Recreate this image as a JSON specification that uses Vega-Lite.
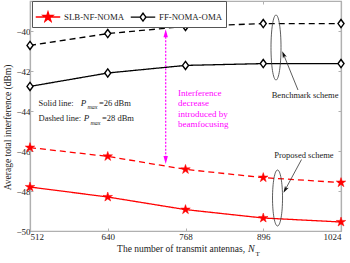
{
  "$schema": "https://vega.github.io/schema/vega-lite/v6.json",
  "autosize": {"type": "none"},
  "padding": {"left": 30, "top": 1, "right": 9, "bottom": 32},
  "width": 311,
  "height": 230,
  "background": "white",
  "config": {
    "font": "Liberation Serif",
    "view": {"stroke": "#b0b0b0", "strokeWidth": 1.2},
    "axis": {
      "domainColor": "#b0b0b0", "domainWidth": 1.2, "tickColor": "#b0b0b0", "tickSize": -3, "tickWidth": 1,
      "labelFont": "Liberation Serif", "labelFontSize": 9, "labelColor": "#222", "grid": false,
      "titleFont": "Liberation Serif", "titleFontSize": 9.5, "titleFontWeight": "normal", "titleColor": "#222"
    }
  },
  "datasets": {
    "lines": [
      {"N": 512, "scheme": "SLB-NF-NOMA", "power": "26 dBm", "value": -47.8},
      {"N": 640, "scheme": "SLB-NF-NOMA", "power": "26 dBm", "value": -48.3},
      {"N": 768, "scheme": "SLB-NF-NOMA", "power": "26 dBm", "value": -48.93},
      {"N": 896, "scheme": "SLB-NF-NOMA", "power": "26 dBm", "value": -49.35},
      {"N": 1024, "scheme": "SLB-NF-NOMA", "power": "26 dBm", "value": -49.55},
      {"N": 512, "scheme": "SLB-NF-NOMA", "power": "28 dBm", "value": -45.83},
      {"N": 640, "scheme": "SLB-NF-NOMA", "power": "28 dBm", "value": -46.27},
      {"N": 768, "scheme": "SLB-NF-NOMA", "power": "28 dBm", "value": -46.92},
      {"N": 896, "scheme": "SLB-NF-NOMA", "power": "28 dBm", "value": -47.33},
      {"N": 1024, "scheme": "SLB-NF-NOMA", "power": "28 dBm", "value": -47.58},
      {"N": 512, "scheme": "FF-NOMA-OMA", "power": "26 dBm", "value": -42.77},
      {"N": 640, "scheme": "FF-NOMA-OMA", "power": "26 dBm", "value": -42.1},
      {"N": 768, "scheme": "FF-NOMA-OMA", "power": "26 dBm", "value": -41.72},
      {"N": 896, "scheme": "FF-NOMA-OMA", "power": "26 dBm", "value": -41.63},
      {"N": 1024, "scheme": "FF-NOMA-OMA", "power": "26 dBm", "value": -41.63},
      {"N": 512, "scheme": "FF-NOMA-OMA", "power": "28 dBm", "value": -40.72},
      {"N": 640, "scheme": "FF-NOMA-OMA", "power": "28 dBm", "value": -40.13},
      {"N": 768, "scheme": "FF-NOMA-OMA", "power": "28 dBm", "value": -39.77},
      {"N": 896, "scheme": "FF-NOMA-OMA", "power": "28 dBm", "value": -39.63},
      {"N": 1024, "scheme": "FF-NOMA-OMA", "power": "28 dBm", "value": -39.63}
    ],
    "notes": [
      {"x": 526, "y": -43.575, "t": "Solid line:"},
      {"x": 526, "y": -44.35, "t": "Dashed line:"},
      {"x": 625.5, "y": -43.575, "t": "=26 dBm"},
      {"x": 630.5, "y": -44.35, "t": "=28 dBm"}
    ],
    "pnotes": [
      {"x": 595.5, "y": -43.575, "t": "P"},
      {"x": 600.5, "y": -44.35, "t": "P"}
    ],
    "subs": [
      {"x": 606.5, "y": -43.8, "t": "max"},
      {"x": 611.5, "y": -44.575, "t": "max"}
    ],
    "schemes": [
      {"x": 909.9, "y": -43.2, "t": "Benchmark scheme"},
      {"x": 914.2, "y": -46.2, "t": "Proposed scheme"}
    ],
    "pink": [
      {"x": 755.6, "y": -43.085, "t": "Interference"},
      {"x": 755.6, "y": -43.61, "t": "decrease"},
      {"x": 755.6, "y": -44.135, "t": "introduced by"},
      {"x": 755.6, "y": -44.66, "t": "beamfocusing"}
    ],
    "pinkArrow": [{"x": 735.4, "y": -40.115, "y2": -46.45}],
    "pinkTop": [{"x": 735.4, "y": -40.115}],
    "pinkBottom": [{"x": 735.4, "y": -46.45}],
    "ellBench": [{"x": 917.0, "y": -40.825}],
    "ellProp": [{"x": 919.5, "y": -48.35}],
    "arrBench": [{"x": 953.2, "y": -42.95, "x2": 929.4, "y2": -41.17}],
    "arrProp": [{"x": 959.0, "y": -46.425, "x2": 932.1, "y2": -47.94}],
    "xtitle": [{"x": 866, "y": -50.9, "t": "The number of transmit antennas,"}],
    "xtitleN": [{"x": 870.9, "y": -50.9, "t": "N"}],
    "xtitleT": [{"x": 883.3, "y": -51.15, "t": "T"}]
  },
  "resolve": {"axis": {"x": "independent", "y": "independent"}},
  "layer": [
    {
      "data": {"name": "lines"},
      "mark": {"type": "line", "strokeWidth": 1.3},
      "encoding": {
        "x": {"field": "N", "type": "quantitative", "scale": {"domain": [512, 1024], "nice": false, "zero": false},
              "axis": {"values": [512, 640, 768, 896, 1024], "format": "d", "title": null, "labelPadding": 4}},
        "y": {"field": "value", "type": "quantitative", "scale": {"domain": [-50, -38.5], "nice": false, "zero": false},
              "axis": {"values": [-50, -48, -46, -44, -42, -40], "title": "Average total interference (dBm)", "labelPadding": 3,
                       "titleX": -23, "titleY": 126, "titleAngle": 270, "titleBaseline": "middle", "titleAlign": "center"}},
        "color": {"field": "scheme", "type": "nominal",
          "scale": {"domain": ["SLB-NF-NOMA", "FF-NOMA-OMA"], "range": ["#ff0000", "#000000"]},
          "legend": {
            "title": null, "orient": "none", "legendX": 2, "legendY": 0, "direction": "horizontal",
            "padding": 3, "strokeColor": "#555", "fillColor": "white", "labelFont": "Liberation Serif", "labelFontSize": 8.8,
            "labelColor": "#222", "labelOffset": 3, "columnPadding": 2, "symbolSize": 600, "symbolStrokeWidth": 1.4,
            "encode": {"symbols": {"update": {
              "shape": {"signal": "datum.value === 'SLB-NF-NOMA' ? 'M-1,0H1M0,-0.41L0.092,-0.127L0.39,-0.127L0.149,0.048L0.241,0.332L0,0.157L-0.241,0.332L-0.149,0.048L-0.39,-0.127L-0.092,-0.127Z' : 'M-1,0H-0.24M0.24,0H1M0,-0.32L0.24,0L0,0.32L-0.24,0Z'"},
              "fill": {"signal": "datum.value === 'SLB-NF-NOMA' ? '#ff0000' : '#ffffff'"},
              "stroke": {"signal": "datum.value === 'SLB-NF-NOMA' ? '#ff0000' : '#000000'"},
              "strokeDash": {"value": [1, 0]},
              "size": {"value": 600}
            }}}
          }},
        "strokeDash": {"field": "power", "type": "nominal", "scale": {"domain": ["26 dBm", "28 dBm"], "range": [[1, 0], [6, 4]]}, "legend": null}
      }
    },
    {
      "data": {"name": "lines"},
      "transform": [{"filter": "datum.scheme === 'SLB-NF-NOMA'"}],
      "mark": {"type": "point", "filled": true, "fill": "#ff0000", "stroke": "#ff0000", "strokeWidth": 0.5, "opacity": 1, "size": 100,
               "shape": "M0,-1L0.2245,-0.309L0.951,-0.309L0.363,0.118L0.588,0.809L0,0.382L-0.588,0.809L-0.363,0.118L-0.951,-0.309L-0.2245,-0.309Z"},
      "encoding": {
        "x": {"field": "N", "type": "quantitative", "axis": null},
        "y": {"field": "value", "type": "quantitative", "axis": null}
      }
    },
    {
      "data": {"name": "lines"},
      "transform": [{"filter": "datum.scheme === 'FF-NOMA-OMA'"}],
      "mark": {"type": "point", "filled": false, "fill": "#ffffff", "stroke": "#000000", "strokeWidth": 1.4, "opacity": 1, "size": 50, "shape": "M0,-1.15L0.85,0L0,1.15L-0.85,0Z"},
      "encoding": {
        "x": {"field": "N", "type": "quantitative",
              "axis": {"orient": "top", "values": [512, 640, 768, 896, 1024], "labels": false, "title": null}},
        "y": {"field": "value", "type": "quantitative",
              "axis": {"orient": "right", "values": [-50, -48, -46, -44, -42, -40], "labels": false, "title": null}}
      }
    },
    {
      "data": {"name": "notes"},
      "mark": {"type": "text", "align": "left", "baseline": "middle", "fontSize": 8.5, "color": "#222", "font": "Liberation Serif"},
      "encoding": {"x": {"field": "x", "type": "quantitative", "axis": null}, "y": {"field": "y", "type": "quantitative", "axis": null}, "text": {"field": "t"}}
    },
    {
      "data": {"name": "pnotes"},
      "mark": {"type": "text", "align": "left", "baseline": "middle", "fontSize": 9, "fontStyle": "italic", "color": "#222", "font": "Liberation Serif"},
      "encoding": {"x": {"field": "x", "type": "quantitative", "axis": null}, "y": {"field": "y", "type": "quantitative", "axis": null}, "text": {"field": "t"}}
    },
    {
      "data": {"name": "subs"},
      "mark": {"type": "text", "align": "left", "baseline": "middle", "fontSize": 6, "fontStyle": "italic", "color": "#222", "font": "Liberation Serif"},
      "encoding": {"x": {"field": "x", "type": "quantitative", "axis": null}, "y": {"field": "y", "type": "quantitative", "axis": null}, "text": {"field": "t"}}
    },
    {
      "data": {"name": "schemes"},
      "mark": {"type": "text", "align": "left", "baseline": "middle", "fontSize": 8.5, "color": "#222", "font": "Liberation Serif"},
      "encoding": {"x": {"field": "x", "type": "quantitative", "axis": null}, "y": {"field": "y", "type": "quantitative", "axis": null}, "text": {"field": "t"}}
    },
    {
      "data": {"name": "pink"},
      "mark": {"type": "text", "align": "left", "baseline": "middle", "fontSize": 9, "color": "#ff00ff", "font": "Liberation Serif"},
      "encoding": {"x": {"field": "x", "type": "quantitative", "axis": null}, "y": {"field": "y", "type": "quantitative", "axis": null}, "text": {"field": "t"}}
    },
    {
      "data": {"name": "pinkArrow"},
      "mark": {"type": "rule", "color": "#ff00ff", "strokeWidth": 1.2, "strokeDash": [2, 1.5]},
      "encoding": {"x": {"field": "x", "type": "quantitative", "axis": null}, "y": {"field": "y", "type": "quantitative", "axis": null}, "y2": {"field": "y2"}}
    },
    {
      "data": {"name": "pinkTop"},
      "mark": {"type": "point", "filled": true, "color": "#ff00ff", "opacity": 1, "size": 64, "shape": "M0,-1L0.55,1L-0.55,1Z"},
      "encoding": {"x": {"field": "x", "type": "quantitative", "axis": null}, "y": {"field": "y", "type": "quantitative", "axis": null}}
    },
    {
      "data": {"name": "pinkBottom"},
      "mark": {"type": "point", "filled": true, "color": "#ff00ff", "opacity": 1, "size": 64, "shape": "M0,1L0.55,-1L-0.55,-1Z"},
      "encoding": {"x": {"field": "x", "type": "quantitative", "axis": null}, "y": {"field": "y", "type": "quantitative", "axis": null}}
    },
    {
      "data": {"name": "ellBench"},
      "mark": {"type": "point", "filled": false, "stroke": "#333", "strokeWidth": 0.8, "opacity": 1, "size": 4225, "shape": "M0,-1A0.154,1 0 1,1 0,1A0.154,1 0 1,1 0,-1Z"},
      "encoding": {"x": {"field": "x", "type": "quantitative", "axis": null}, "y": {"field": "y", "type": "quantitative", "axis": null}}
    },
    {
      "data": {"name": "ellProp"},
      "mark": {"type": "point", "filled": false, "stroke": "#333", "strokeWidth": 0.8, "opacity": 1, "size": 3136, "shape": "M0,-1A0.179,1 0 1,1 0,1A0.179,1 0 1,1 0,-1Z"},
      "encoding": {"x": {"field": "x", "type": "quantitative", "axis": null}, "y": {"field": "y", "type": "quantitative", "axis": null}}
    },
    {
      "data": {"name": "arrBench"},
      "mark": {"type": "rule", "color": "#333", "strokeWidth": 0.8},
      "encoding": {"x": {"field": "x", "type": "quantitative", "axis": null}, "y": {"field": "y", "type": "quantitative", "axis": null}, "x2": {"field": "x2"}, "y2": {"field": "y2"}}
    },
    {
      "data": {"name": "arrBench"},
      "mark": {"type": "point", "filled": true, "color": "#111", "opacity": 1, "size": 49, "angle": 338, "shape": "M0,-1L0.6,1L0,0.5L-0.6,1Z"},
      "encoding": {"x": {"field": "x2", "type": "quantitative", "axis": null}, "y": {"field": "y2", "type": "quantitative", "axis": null}}
    },
    {
      "data": {"name": "arrProp"},
      "mark": {"type": "rule", "color": "#333", "strokeWidth": 0.8},
      "encoding": {"x": {"field": "x", "type": "quantitative", "axis": null}, "y": {"field": "y", "type": "quantitative", "axis": null}, "x2": {"field": "x2"}, "y2": {"field": "y2"}}
    },
    {
      "data": {"name": "arrProp"},
      "mark": {"type": "point", "filled": true, "color": "#111", "opacity": 1, "size": 49, "angle": 209, "shape": "M0,-1L0.6,1L0,0.5L-0.6,1Z"},
      "encoding": {"x": {"field": "x2", "type": "quantitative", "axis": null}, "y": {"field": "y2", "type": "quantitative", "axis": null}}
    },
    {
      "data": {"name": "xtitle"},
      "mark": {"type": "text", "align": "right", "baseline": "middle", "fontSize": 9.5, "color": "#222", "font": "Liberation Serif", "clip": false},
      "encoding": {"x": {"field": "x", "type": "quantitative", "axis": null}, "y": {"field": "y", "type": "quantitative", "axis": null}, "text": {"field": "t"}}
    },
    {
      "data": {"name": "xtitleN"},
      "mark": {"type": "text", "align": "left", "baseline": "middle", "fontSize": 10, "fontStyle": "italic", "color": "#222", "font": "Liberation Serif", "clip": false},
      "encoding": {"x": {"field": "x", "type": "quantitative", "axis": null}, "y": {"field": "y", "type": "quantitative", "axis": null}, "text": {"field": "t"}}
    },
    {
      "data": {"name": "xtitleT"},
      "mark": {"type": "text", "align": "left", "baseline": "middle", "fontSize": 7, "color": "#222", "font": "Liberation Serif", "clip": false},
      "encoding": {"x": {"field": "x", "type": "quantitative", "axis": null}, "y": {"field": "y", "type": "quantitative", "axis": null}, "text": {"field": "t"}}
    }
  ]
}
